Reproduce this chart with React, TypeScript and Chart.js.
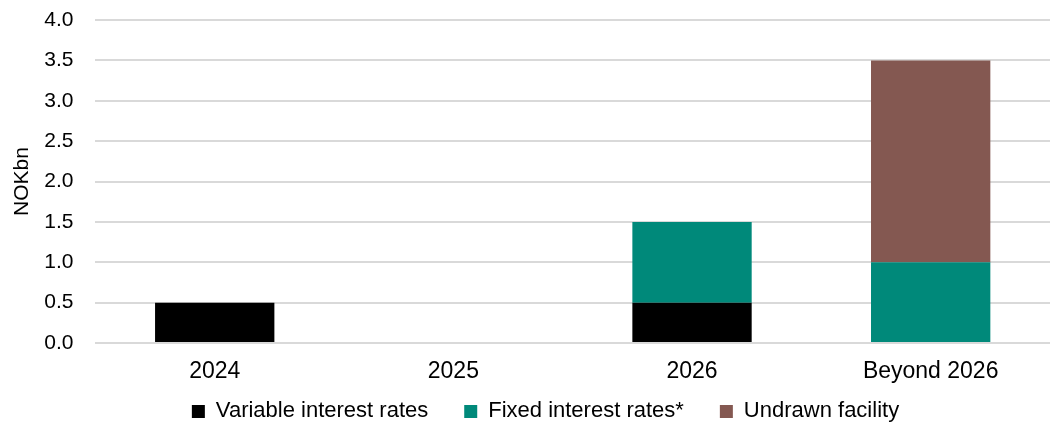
import React, { useEffect, useRef } from "react";
import { Chart, registerables } from "chart.js";

Chart.register(...registerables);

const categories = ["2024", "2025", "2026", "Beyond 2026"];
const variableRates = [0.5, 0, 0.5, 0];
const fixedRates = [0, 0, 1.0, 1.0];
const undrawnFacility = [0, 0, 0, 2.5];
const seriesNames = ["Variable interest rates", "Fixed interest rates*", "Undrawn facility"];
const seriesColors = ["#000000", "#00897A", "#845851"];

export default function App() {
  const ref = useRef<HTMLCanvasElement>(null);
  useEffect(() => {
    document.body.style.margin = "0";
    const ctx = ref.current!;
    const font = "Liberation Sans";
    const legendPad = 36;
    const legendHeight = 30.4;
    const legendDY = -28.2;
    const legendDX = 19;
    const legendShift = {
      id: "legendShift",
      beforeUpdate(c: any) {
        const lg: any = c.legend;
        if (lg && !lg.__patched) {
          lg.__patched = true;
          const origFit = lg.fit.bind(lg);
          lg.fit = function () {
            origFit();
            this.height = legendHeight;
          };
          const origDraw = lg.draw.bind(lg);
          lg.draw = function (...args: any[]) {
            const t = this.top, l = this.left, r = this.right;
            this.top = t + legendDY;
            this.left = l + legendDX;
            this.right = r + legendDX;
            origDraw(...args);
            this.top = t;
            this.left = l;
            this.right = r;
          };
        }
      },
    };
    const chart = new Chart(ctx, {
      type: "bar",
      data: {
        labels: categories,
        datasets: [variableRates, fixedRates, undrawnFacility].map((d, i) => ({
          label: seriesNames[i],
          data: d,
          backgroundColor: seriesColors[i],
          borderWidth: 0,
          barPercentage: 0.5,
          categoryPercentage: 1.0,
        })),
      },
      options: {
        animation: false,
        responsive: false,
        maintainAspectRatio: false,
        layout: { padding: { top: 20, right: 5, left: 3, bottom: 0 } },
        plugins: {
          tooltip: { enabled: false },
          legend: {
            position: "bottom",
            labels: {
              boxWidth: 13,
              boxHeight: 13,
              padding: legendPad,
              color: "#000",
              font: { family: font, size: 22 },
            },
          },
        },
        scales: {
          x: {
            stacked: true,
            grid: { display: false },
            border: { display: false },
            ticks: { color: "#000", font: { family: font, size: 23 }, padding: 7 },
          },
          y: {
            stacked: true,
            min: 0,
            max: 4,
            grid: {
              color: "#d9d9d9",
              lineWidth: 2,
              drawTicks: true,
              tickLength: 20,
              tickColor: "rgba(0,0,0,0)",
            },
            border: { display: false },
            ticks: {
              stepSize: 0.5,
              color: "#000",
              padding: 2,
              font: { family: font, size: 21 },
              callback: (v: any) => Number(v).toFixed(1),
            },
            title: {
              display: true,
              text: "NOKbn",
              color: "#000",
              font: { family: font, size: 21 },
              padding: 7,
            },
          },
        },
      },
      plugins: [legendShift],
    });
    return () => chart.destroy();
  }, []);
  return (
    <div style={{ width: 1055, height: 423 }}>
      <canvas ref={ref} width={1055} height={423} />
    </div>
  );
}
